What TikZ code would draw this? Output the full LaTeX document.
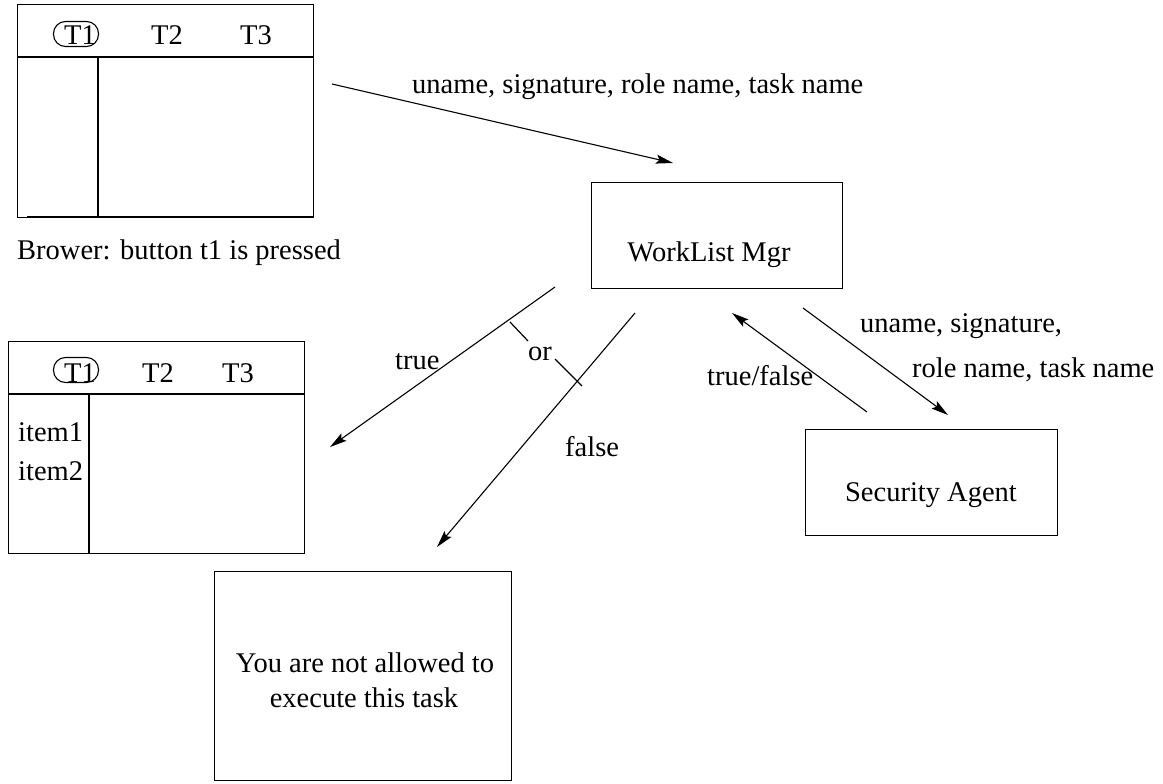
\documentclass[tikz,border=0pt]{standalone}
\usepackage{fontspec}
\setmainfont{Liberation Serif}
\usetikzlibrary{arrows.meta}
\begin{document}
\begin{tikzpicture}[x={(1pt,0)},y={(0,-1pt)},
  every node/.style={font=\fontsize{28.5pt}{34pt}\selectfont, inner sep=0pt},
  ln/.style={line width=1.2pt},
  arr/.style={line width=1.1pt,-{Stealth[length=17pt,width=9pt,inset=3pt]}},
  boxn/.style={draw, line width=1.2pt, anchor=north west, minimum width=#1},
  lbl/.style={anchor=base west},
  ctr/.style={anchor=base},
  oval/.style={draw, line width=1.1pt, rounded corners=12pt, minimum width=45pt, minimum height=25pt}]
\useasboundingbox (0,0) rectangle (1163,784);
% window 1
\node[boxn=296pt, minimum height=213pt] (win1) at (17,4) {};
\draw[ln] (17,57) -- (313,57);
\draw[ln] (98,57) -- (98,217);
\draw[line width=2pt] (27,216.5) -- (313,216.5);
\node[oval] (o1) at (76,34) {};
\node[ctr] (w1t1) at (80,45) {T1};
\node[ctr] (w1t2) at (167,45) {T2};
\node[ctr] (w1t3) at (256,45) {T3};
\node[lbl] (brow) at (17,259) {Brower: button t1 is pressed};
% window 2
\node[boxn=296pt, minimum height=212pt] (win2) at (8,341) {};
\draw[ln] (8,394) -- (304,394);
\draw[ln] (89,394) -- (89,553);
\node[oval] (o2) at (76,370) {};
\node[ctr] (w2t1) at (80,382) {T1};
\node[ctr] (w2t2) at (158,382) {T2};
\node[ctr] (w2t3) at (238,382) {T3};
\node[lbl] (it1) at (18,441) {item1};
\node[lbl] (it2) at (18,480) {item2};
% worklist mgr
\node[boxn=251pt, minimum height=106pt] (wm) at (591,182) {};
\node[ctr] (wmt) at (709,261) {WorkList Mgr};
% security agent
\node[boxn=252pt, minimum height=106pt] (sa) at (805,429) {};
\node[ctr] (sat) at (931,501) {Security Agent};
% message box
\node[boxn=297pt, minimum height=209pt] (msg) at (214,571) {};
\node[ctr] (m1) at (365,672) {You are not allowed to};
\node[ctr] (m2) at (364,707) {execute this task};
% arrow end points
\coordinate (a1s) at (332,84);
\coordinate (a1e) at (673,163);
\coordinate (ts) at (555,287);
\coordinate (te) at (330,447);
\coordinate (fs) at (635,313);
\coordinate (fe) at (437,547);
\coordinate (tfs) at (867,412);
\coordinate (tfe) at (732,313);
\coordinate (us) at (803,308);
\coordinate (ue) at (948,415);
\coordinate (k1s) at (510,322);
\coordinate (k1e) at (528,341);
\coordinate (k2s) at (555,359);
\coordinate (k2e) at (582,386);
\draw[arr] (a1s) -- (a1e);
\draw[arr] (ts) -- (te);
\draw[arr] (fs) -- (fe);
\draw[arr] (tfs) -- (tfe);
\draw[arr] (us) -- (ue);
\draw[ln] (k1s) -- (k1e);
\draw[ln] (k2s) -- (k2e);
% labels
\node[lbl] (l1) at (412,94) {uname, signature, role name, task name};
\node[lbl] (ltrue) at (395,369) {true};
\node[lbl] (lor) at (528,360) {or};
\node[lbl] (lfalse) at (565,456) {false};
\node[lbl] (ltf) at (707,385) {true/false};
\node[lbl] (lu1) at (860,332) {uname, signature,};
\node[lbl] (lu2) at (912,377) {role name, task name};
\end{tikzpicture}
\end{document}
